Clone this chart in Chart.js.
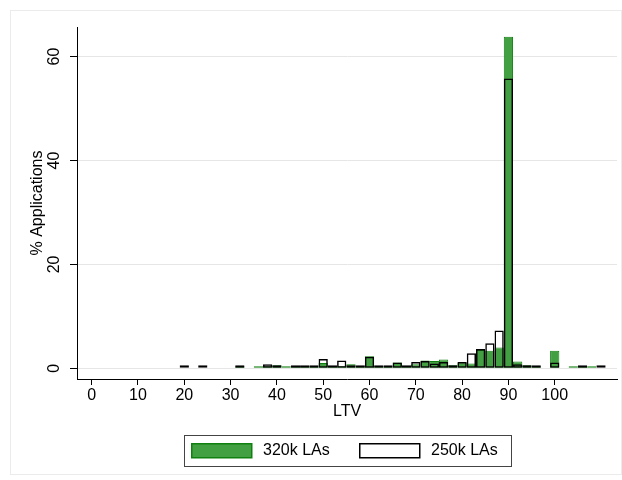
<!DOCTYPE html>
<html><head><meta charset="utf-8">
<script src="https://cdn.jsdelivr.net/npm/chart.js@4.4.1/dist/chart.umd.min.js"></script>
<style>html,body{margin:0;padding:0;background:#fff;}canvas{display:block;}</style>
</head><body>
<canvas id="c" width="622" height="480"></canvas>
<script>
const ltvBins   = [20,24,32,36,38,40,42,44,46,48,50,52,54,56,58,60,62,64,66,68,70,72,74,76,78,80,82,84,86,88,90,92,94,96,100,104,106,108,110];
const share320k = [null,null,0.1,0.2,0.3,0.6,0.2,0.2,0.2,0.3,1.0,0.3,0.3,0.8,0.2,2.3,0.3,0.3,1.1,0.5,0.8,1.5,1.4,1.7,0.6,1.1,0.9,3.5,3.4,4.0,63.8,1.3,0.6,0.1,3.4,0.2,0.2,0.2,null];
const share250k = [0.3,0.3,0.3,null,0.8,0.3,null,0.3,0.3,0.5,1.8,0.5,1.5,0.6,0.3,2.2,0.3,0.3,1.1,0.3,1.2,1.4,0.9,1.2,0.4,1.2,2.9,3.7,4.8,7.3,55.8,0.8,0.1,0.2,1.1,null,0.2,null,0.3];
const xTickValues = [0,10,20,30,40,50,60,70,80,90,100];
const yTickValues = [0,20,40,60];
const seriesLabels = ['320k LAs','250k LAs'];
const xTitle = 'LTV';
const yTitle = '% Applications';

const FONT = '"Liberation Sans", Arial, Helvetica, sans-serif';
const GREEN_FILL = 'rgb(66,160,66)';
const GREEN_EDGE = 'rgb(16,128,16)';

const toPoints = (vals) => ltvBins.map((b, i) => ({x: b, y: vals[i]}));

const decor = {
  id: 'decor',
  beforeDraw(chart) {
    const ctx = chart.ctx;
    ctx.save();
    ctx.fillStyle = '#fff';
    ctx.fillRect(0, 0, chart.width, chart.height);
    ctx.strokeStyle = '#ebebeb';
    ctx.lineWidth = 1;
    ctx.strokeRect(10.5, 10.5, chart.width - 11, chart.height - 16);
    ctx.restore();
  },
  afterDraw(chart) {
    const {ctx, chartArea: a, scales: {y}} = chart;
    ctx.save();
    ctx.fillStyle = '#000';
    ctx.font = '16px ' + FONT;
    ctx.textAlign = 'center';
    ctx.textBaseline = 'middle';
    yTickValues.forEach(v => {
      const py = y.getPixelForValue(v);
      ctx.save();
      ctx.translate(a.left - 22, py);
      ctx.rotate(-Math.PI / 2);
      ctx.fillText(String(v), 0, 0);
      ctx.restore();
    });
    ctx.save();
    ctx.translate(a.left - 39.5, (a.top + a.bottom) / 2);
    ctx.rotate(-Math.PI / 2);
    ctx.fillText(yTitle, 0, 0);
    ctx.restore();
    const cx = (a.left + a.right) / 2;
    ctx.fillText(xTitle, cx, a.bottom + 33);
    const lw = 327, lh = 31;
    const lx = cx - lw / 2, ly = a.bottom + 56;
    ctx.strokeStyle = '#444';
    ctx.lineWidth = 1;
    ctx.strokeRect(Math.round(lx) + 0.5, Math.round(ly) + 0.5, lw, lh);
    const ds = chart.data.datasets;
    const items = [{sx: 7.5, tx: 79.5}, {sx: 175.5, tx: 247.5}];
    items.forEach((it, i) => {
      const d = ds[i];
      const sx = Math.round(lx + it.sx), sy = Math.round(ly + 8);
      if (d.backgroundColor && d.backgroundColor !== 'rgba(0,0,0,0)') {
        ctx.fillStyle = d.backgroundColor;
        ctx.fillRect(sx, sy, 61, 15);
      }
      ctx.strokeStyle = d.borderColor;
      ctx.lineWidth = 1.5;
      ctx.strokeRect(sx + 0.75, sy + 0.75, 60, 14);
      ctx.fillStyle = '#000';
      ctx.textAlign = 'left';
      ctx.fillText(d.label, lx + it.tx, ly + lh / 2);
    });
    ctx.restore();
  }
};

new Chart(document.getElementById('c'), {
  type: 'bar',
  data: {
    datasets: [
      {
        label: seriesLabels[0],
        data: toPoints(share320k),
        backgroundColor: GREEN_FILL,
        borderColor: GREEN_EDGE,
        borderWidth: 1,
        inflateAmount: 0,
        minBarLength: 2,
        borderSkipped: false,
        grouped: false,
        order: 1,
        barPercentage: 1,
        categoryPercentage: 1
      },
      {
        label: seriesLabels[1],
        data: toPoints(share250k),
        backgroundColor: 'rgba(0,0,0,0)',
        borderColor: '#000',
        borderWidth: 1.5,
        inflateAmount: 0,
        minBarLength: 3,
        borderSkipped: false,
        grouped: false,
        order: 0,
        barPercentage: 1,
        categoryPercentage: 1
      }
    ]
  },
  options: {
    responsive: false,
    animation: false,
    devicePixelRatio: 1,
    layout: {padding: {top: 27, right: 5, left: 0, bottom: 0}},
    plugins: {legend: {display: false}, tooltip: {enabled: false}},
    scales: {
      x: {
        type: 'linear',
        min: -3.17,
        max: 113.45,
        offset: false,
        afterBuildTicks: s => { s.ticks = xTickValues.map(v => ({value: v})); },
        afterFit: s => { s.height = 101; },
        grid: {display: true, drawOnChartArea: false, drawTicks: true, tickLength: 6, tickColor: '#000', offset: false},
        border: {display: true, color: '#000', width: 1},
        ticks: {color: '#000', padding: 1, font: {family: FONT, size: 16}, maxRotation: 0, minRotation: 0, autoSkip: false}
      },
      y: {
        type: 'linear',
        min: -2.06,
        max: 65.7,
        afterBuildTicks: s => { s.ticks = yTickValues.map(v => ({value: v})); },
        afterFit: s => { s.width = 77; },
        grid: {display: true, drawOnChartArea: true, drawTicks: true, tickLength: 7, color: '#e6e6e6', tickColor: '#000', lineWidth: 1},
        border: {display: true, color: '#000', width: 1},
        ticks: {display: false}
      }
    }
  },
  plugins: [decor]
});
</script>
</body></html>
